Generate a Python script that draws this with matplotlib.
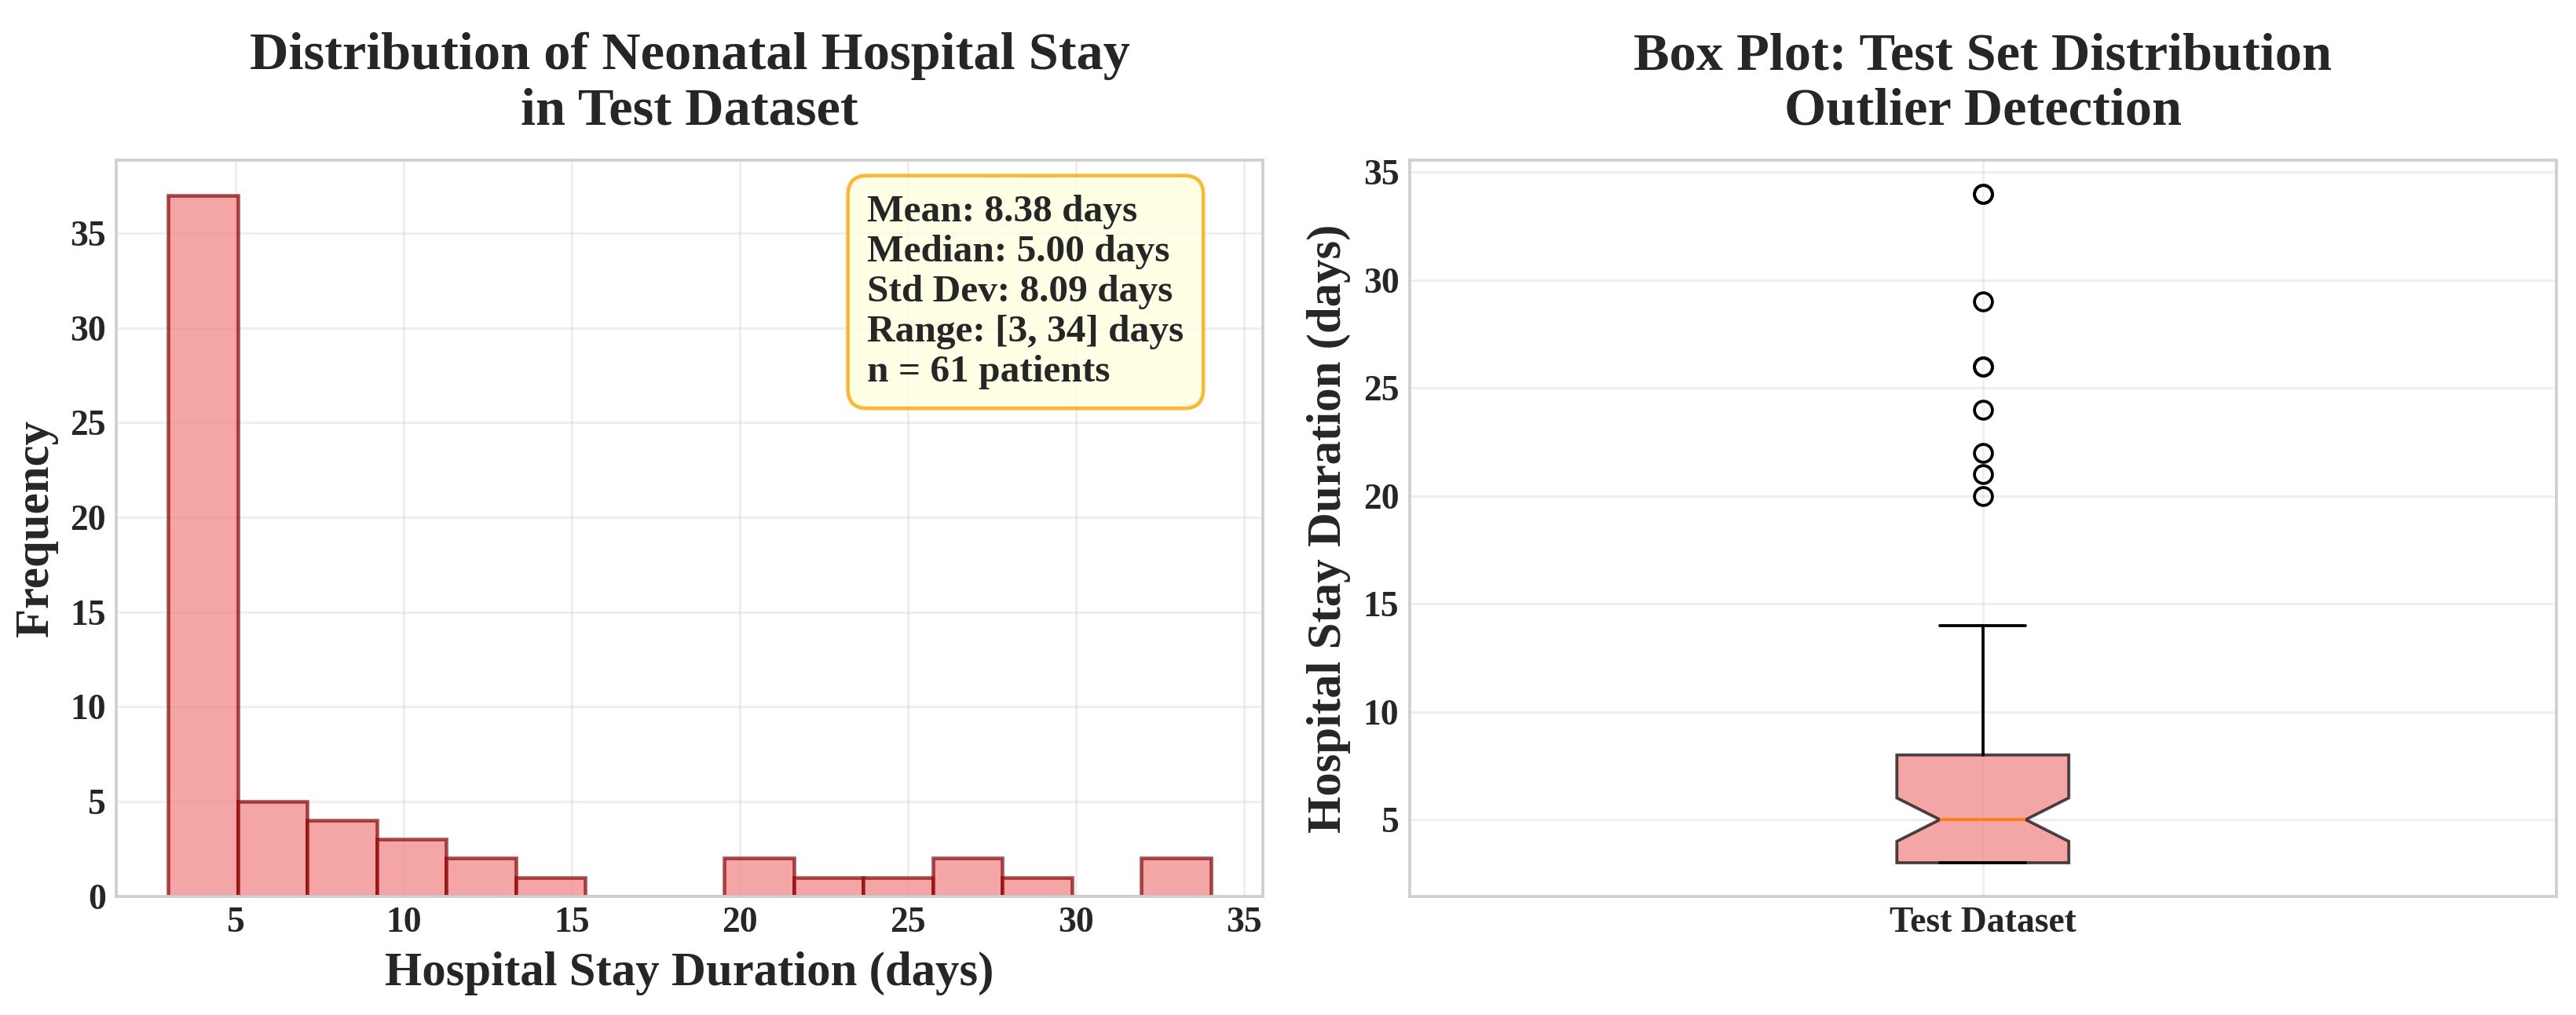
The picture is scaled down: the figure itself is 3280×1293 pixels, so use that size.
import matplotlib
matplotlib.use("Agg")
import matplotlib.pyplot as plt
import numpy as np

# Estancia hospitalaria (días) por paciente del conjunto de prueba
dias_3 = [3] * 18
dias_4 = [4] * 8
dias_5 = [5] * 11
dias_medios = [6, 6, 6, 6, 7, 8, 8, 8, 8, 10, 11, 11, 12, 13, 14]
dias_largos = [20, 21, 22, 24, 26, 26, 29, 34, 34]

stays = np.array(dias_3 + dias_4 + dias_5 + dias_medios + dias_largos)
box_label = ['Test Dataset']
n_bins = 15

plt.style.use('seaborn-v0_8-whitegrid')
plt.rcParams['font.family'] = ['Liberation Serif', 'DejaVu Serif']
plt.rcParams['font.weight'] = 'bold'
plt.rcParams['axes.labelweight'] = 'bold'
plt.rcParams['axes.titleweight'] = 'bold'
plt.rcParams['text.color'] = '#262626'
plt.rcParams['axes.labelcolor'] = '#262626'
plt.rcParams['xtick.color'] = '#262626'
plt.rcParams['ytick.color'] = '#262626'

dpi = 273.4
fig = plt.figure(figsize=(3281 / dpi, 1293 / dpi), dpi=dpi)
ax1 = fig.add_axes([0.0451, 0.117, 0.445, 0.725])
ax2 = fig.add_axes([0.547, 0.117, 0.445, 0.725])

for ax in (ax1, ax2):
    for s in ax.spines.values():
        s.set_visible(True)
        s.set_color('#d0d0d0')
        s.set_linewidth(1.0)
    ax.grid(True, alpha=0.3)
    ax.tick_params(labelsize=12)

# Histograma
ax1.hist(stays, bins=n_bins, color='lightcoral', edgecolor='darkred',
         alpha=0.7, linewidth=1.2)
ax1.set_title('Distribution of Neonatal Hospital Stay\nin Test Dataset',
              fontsize=18, pad=12)
ax1.set_xlabel('Hospital Stay Duration (days)', fontsize=16)
ax1.set_ylabel('Frequency', fontsize=16)

stats_text = (f'Mean: {stays.mean():.2f} days\n'
              f'Median: {np.median(stays):.2f} days\n'
              f'Std Dev: {stays.std():.2f} days\n'
              f'Range: [{stays.min()}, {stays.max()}] days\n'
              f'n = {len(stays)} patients')
ax1.text(0.655, 0.953, stats_text, transform=ax1.transAxes, fontsize=13,
         va='top', ha='left', linespacing=1.2,
         bbox=dict(boxstyle='round,pad=0.5', facecolor='lightyellow',
                   edgecolor='orange', alpha=0.8, linewidth=1.2))

# Boxplot
box = ax2.boxplot([stays], notch=True, patch_artist=True, widths=0.15,
                  tick_labels=box_label)
for patch in box['boxes']:
    patch.set_facecolor('lightcoral')
    patch.set_alpha(0.7)
ax2.set_title('Box Plot: Test Set Distribution\nOutlier Detection',
              fontsize=18, pad=12)
ax2.set_ylabel('Hospital Stay Duration (days)', fontsize=16)

fig.savefig('out.png', dpi=dpi)
